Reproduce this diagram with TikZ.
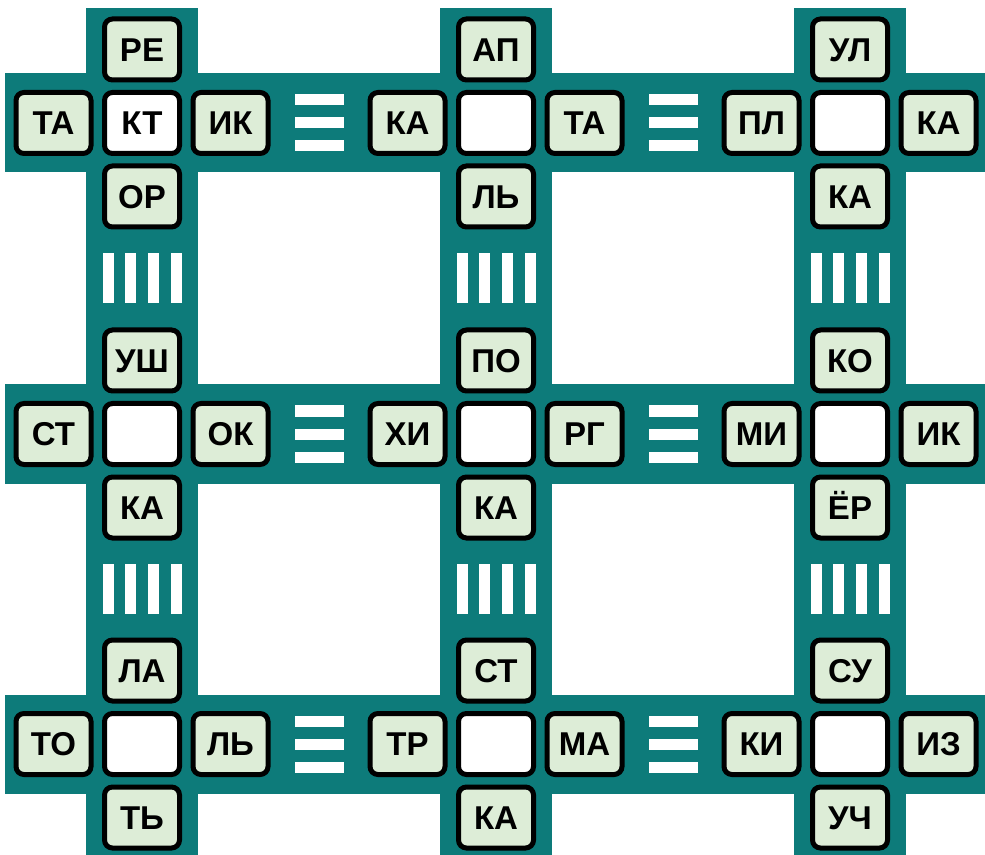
\documentclass[tikz,border=0pt]{standalone}
\usepackage{fontspec}
\setmainfont{Liberation Sans}
\definecolor{band}{RGB}{13,123,122}
\definecolor{tile}{RGB}{221,237,215}
\begin{document}
\begin{tikzpicture}[x=0.75pt,y=-0.75pt,
  tilebox/.style={draw=black, line width=3.75pt, rounded corners=6pt, fill=tile,
    minimum width=56.25pt, minimum height=45.75pt, inner sep=0pt,
    font=\fontsize{24.75pt}{26pt}\selectfont\bfseries, text height=17.7pt, text depth=0pt},
  blankbox/.style={tilebox, fill=white},
  barfill/.style={fill=white}]
\useasboundingbox (0,0) rectangle (985,855);
% bands
\foreach \cy in {123,434,744} \fill[band] (5,\cy-49.5) rectangle (985,\cy+49.5);
\foreach \cx in {142,496,850} \fill[band] (\cx-56,8) rectangle (\cx+56,855);
% horizontal bar groups (=)
\foreach \bx in {319,673}
  \foreach \cy in {123,434,744}
    \foreach \dy in {-23,0,23}
      \fill[barfill] (\bx-24.5,\cy+\dy-5.5) rectangle (\bx+24.5,\cy+\dy+5.5);
% vertical bar groups (||||)
\foreach \by in {278.5,589}
  \foreach \cx in {142,496,850}
    \foreach \dx in {-34,-11.5,11.5,34}
      \fill[barfill] (\cx+\dx-5.5,\by-25) rectangle (\cx+\dx+5.5,\by+25);
% tiles
\foreach \n/\cx/\cy/\u/\l/\c/\rr/\d in {
  a/142/123/РЕ/ТА/КТ/ИК/ОР,
  b/496/123/АП/КА/{}/ТА/ЛЬ,
  c/850/123/УЛ/ПЛ/{}/КА/КА,
  d/142/434/УШ/СТ/{}/ОК/КА,
  e/496/434/ПО/ХИ/{}/РГ/КА,
  f/850/434/КО/МИ/{}/ИК/ЁР,
  g/142/744/ЛА/ТО/{}/ЛЬ/ТЬ,
  h/496/744/СТ/ТР/{}/МА/КА,
  i/850/744/СУ/КИ/{}/ИЗ/УЧ}{
  \node[tilebox]  (\n-u) at (\cx,\cy-73.5) {\u};
  \node[tilebox]  (\n-l) at (\cx-88.5,\cy) {\l};
  \node[blankbox] (\n-c) at (\cx,\cy) {\c};
  \node[tilebox]  (\n-r) at (\cx+88.5,\cy) {\rr};
  \node[tilebox]  (\n-d) at (\cx,\cy+73.5) {\d};
}
\end{tikzpicture}
\end{document}
